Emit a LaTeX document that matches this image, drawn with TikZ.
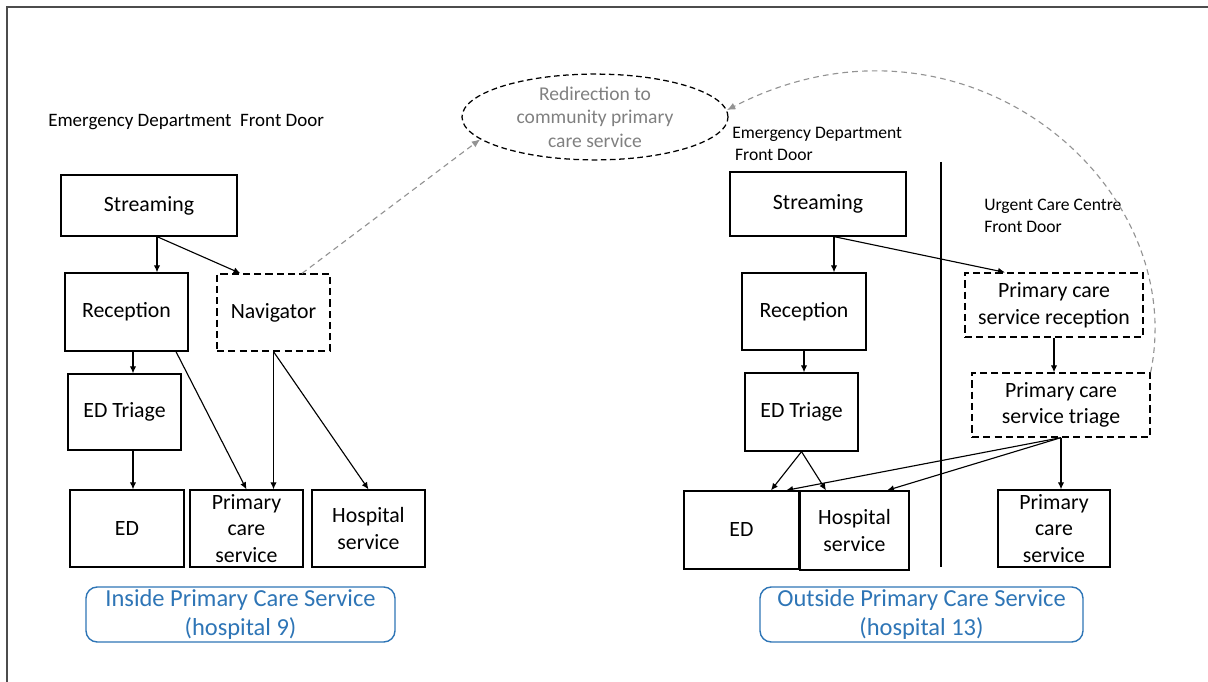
\documentclass[tikz,border=0pt]{standalone}
\usepackage{fontspec}
\setmainfont{Carlito}
\usepackage{tikz}
\usetikzlibrary{arrows.meta,calc,shapes.geometric}
\definecolor{bleuCadre}{RGB}{46,117,182}
\tikzset{
Taille/.style 2 args={
 minimum width=#1*0.025cm, 
 minimum height=#2*0.025cm
 },
Boite/.style={
 draw=black, 
 line width=0.9pt, 
 inner sep=0pt, 
 align=center, 
 font=\fontsize{15.5}{19}\selectfont
 },
BoiteTiret/.style={
 Boite, 
 dash pattern=on 5pt off 3pt
 },
Bulle/.style={
 ellipse, 
 draw=black, 
 line width=0.9pt, 
 dash pattern=on 4pt off 2.5pt, 
 text=gray, 
 align=center, 
 inner sep=0pt, 
 Taille={266}{79}, 
 font=\fontsize{13.9}{16.7}\selectfont
 },
Titre/.style={
 anchor=west, 
 align=left, 
 inner sep=0pt, 
 font=\fontsize{12.5}{15.5}\selectfont
 },
Legende/.style={
 draw=bleuCadre, 
 text=bleuCadre, 
 rounded corners=8pt, 
 line width=1pt, 
 inner sep=0pt, 
 align=center, 
 font=\fontsize{17.4}{21}\selectfont
 },
Fleche/.style={
 draw=black, 
 line width=0.8pt, 
 -{Latex[length=5pt,width=4.5pt]}
 },
FlecheGrise/.style={
 draw=gray!85, 
 line width=0.8pt, 
 dash pattern=on 4pt off 3pt, 
 -{Latex[length=6pt,width=5pt]}
 }
}
\begin{document}
\begin{tikzpicture}[x=0.025cm,y=-0.025cm]
\useasboundingbox (0,0) rectangle (1208,682);
\draw[line width=1.2pt,draw=black!70] (7,682) -- (7,7) -- (1208,7);
% hopital 9
\node[Titre,font=\fontsize{13.5}{16}\selectfont] (lporte) at (48,122) {Emergency Department\ \ Front Door};
\node[Boite,Taille={176}{61}] (lstream) at (149,205.5) {Streaming};
\node[Boite,Taille={123}{78}] (lrec) at (126.5,312) {Reception};
\node[BoiteTiret,Taille={113}{77}] (nav) at (273.5,312.5) {Navigator};
\node[Boite,Taille={113}{76}] (ltri) at (124.5,412) {ED Triage};
\node[Boite,Taille={114}{77}] (led) at (127,528.5) {ED};
\node[Boite,Taille={113}{77}] (lpcs) at (246.5,528.5) {Primary\\care\\service};
\node[Boite,Taille={113}{77}] (lhosp) at (368.5,528.5) {Hospital\\service};
\node[Legende,Taille={309}{55}] (lleg) at (240.5,614.5) {Inside Primary Care Service\\(hospital 9)};
\coordinate (ls) at ($(lstream.south)+(8,0)$);
\coordinate (lr) at ($(lrec.south)+(6.5,0)$);
\coordinate (lt) at ($(ltri.south)+(8.5,0)$);
\draw[Fleche] (ls) -- (ls |- lrec.north);
\draw[Fleche] (ls) -- ($(nav.north)+(-33,0)$);
\draw[Fleche] (lr) -- (lr |- ltri.north);
\draw[Fleche] ($(lrec.south)+(49.5,0)$) -- (lpcs.north);
\draw[Fleche] (lt) -- (lt |- led.north);
\draw[Fleche] (nav.south) -- (nav.south |- lpcs.north);
\draw[Fleche] (nav.south) -- (lhosp.north);
% redirection
\node[Bulle] (redir) at (595,117) {Redirection to\\community primary\\care service};
\draw[FlecheGrise] ($(nav.north)!0.5!(nav.north east)$) -- (redir.191);
% hopital 13
\node[Titre] (rporte) at (732,144) {Emergency Department\\\hspace{2pt}Front Door};
\node[Titre] (ucc) at (984,215.5) {Urgent Care Centre\\Front Door};
\node[Boite,Taille={176}{64}] (rstream) at (818,204) {Streaming};
\node[Boite,Taille={124}{77}] (rrec) at (804,311.5) {Reception};
\node[Boite,Taille={113}{78}] (rtri) at (801.5,412) {ED Triage};
\node[Boite,Taille={115}{78}] (red) at (741.5,530) {ED};
\node[Boite,Taille={109}{79}] (rhosp) at (854.5,530.5) {Hospital\\service};
\node[BoiteTiret,Taille={178}{64}] (prec) at (1054,305) {Primary care\\service reception};
\node[BoiteTiret,Taille={178}{64}] (ptri) at (1061,405) {Primary care\\service triage};
\node[Boite,Taille={112}{77}] (rpcs) at (1054,528.5) {Primary\\care\\service};
\node[Legende,Taille={323}{55}] (rleg) at (921.5,614.5) {Outside Primary Care Service\\(hospital 13)};
\draw[line width=1pt] (941,162) -- (941,567);
\coordinate (rs) at ($(rstream.south)+(16,0)$);
\draw[Fleche] (rs) -- (rs |- rrec.north);
\draw[Fleche] (rs) -- ($(prec.north)+(-49,0)$);
\draw[Fleche] (rrec.south) -- (rrec.south |- rtri.north);
\draw[Fleche] (rtri.south) -- ($(red.north)+(29.5,0)$);
\draw[Fleche] (rtri.south) -- ($(rhosp.north)+(-28.5,0)$);
\draw[Fleche] (prec.south) -- (prec.south |- ptri.north);
\draw[Fleche] (ptri.south) -- ($(red.north)+(44.5,0)$);
\draw[Fleche] (ptri.south) -- ($(rhosp.north)+(32.5,0)$);
\draw[Fleche] (ptri.south) -- (ptri.south |- rpcs.north);
\draw[FlecheGrise] (ptri.north east) .. controls (1190,180) and (960,-10) .. (redir.3);
\end{tikzpicture}
\end{document}
